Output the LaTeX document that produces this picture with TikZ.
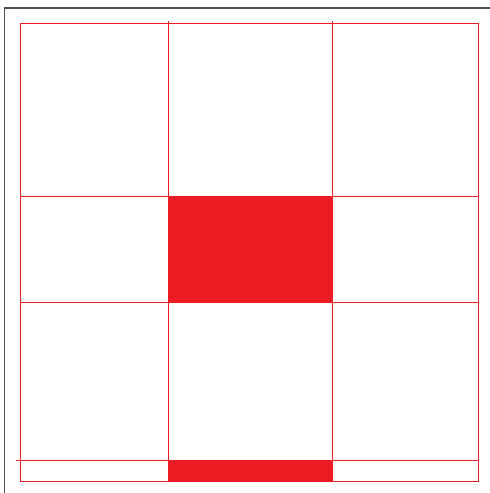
\documentclass[tikz,border=0pt]{standalone}
\usepackage{tikz}
\definecolor{GridRed}{RGB}{237,28,36}
\definecolor{FrameGray}{RGB}{80,80,80}
\tikzset{
  gridline/.style={draw=GridRed,line width=1pt},
  cellfill/.style={fill=GridRed},
  frame/.style={draw=FrameGray,line width=1.5pt},
}
\begin{document}
\begin{tikzpicture}[x=1pt,y=-1pt]
        \useasboundingbox (0,0) rectangle (490,493);
        \clip (0,0) rectangle (490,493);
        \draw[frame] (4.5,8) rectangle (520,520);
        \coordinate (tl) at (20,23);
        \coordinate (br) at (478,481);
        \fill[cellfill] (168,196) rectangle (332.5,302);
        \fill[cellfill] (168,460) rectangle (332.5,481);
        \draw[gridline] (tl) rectangle (br);
        \foreach \x in {168,332.5}
          \draw[gridline] (\x,21) -- (\x,481);
        \foreach \y in {196,302}
          \draw[gridline] (20,\y) -- (478,\y);
        \draw[gridline] (15.5,460) -- (478,460);
      \end{tikzpicture}
\end{document}
